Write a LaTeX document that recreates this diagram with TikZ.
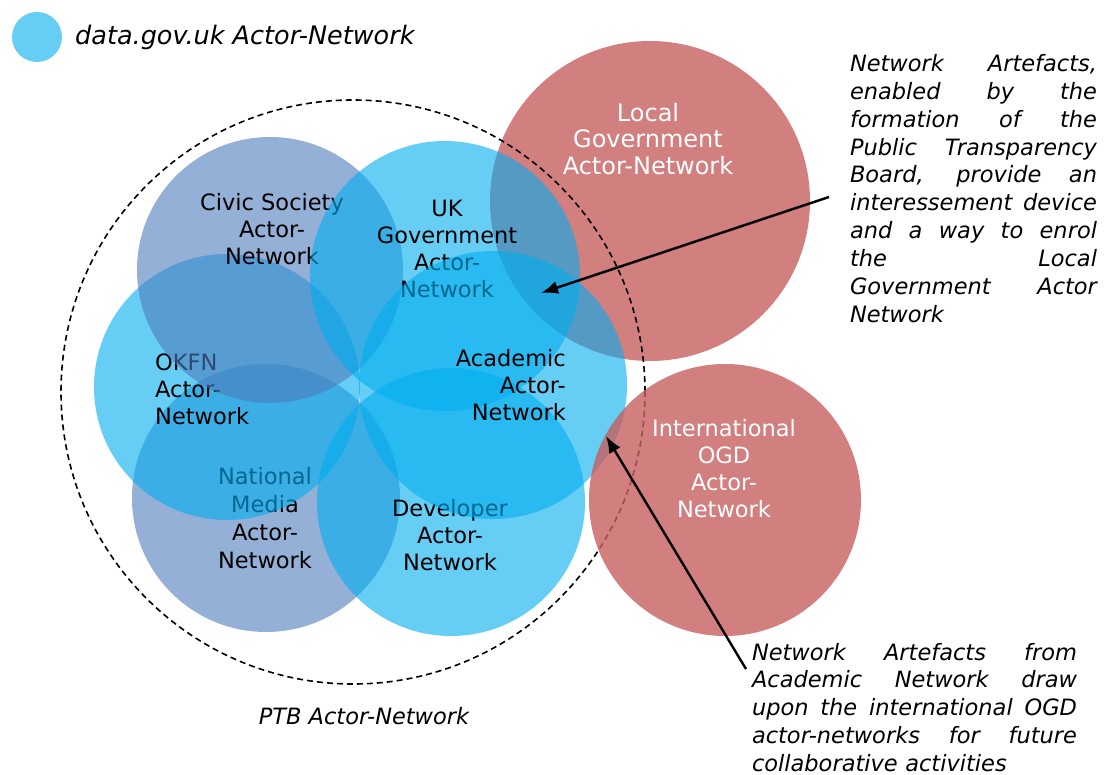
\documentclass[tikz,border=0pt]{standalone}
\usepackage{fontspec}
\setmainfont{DejaVu Sans}
\usepackage{tkz-euclide}
\usetikzlibrary{arrows.meta}
\definecolor{ogdblue}{RGB}{0,173,239}
\definecolor{civblue}{RGB}{78,123,188}
\definecolor{locred}{RGB}{210,127,127}
\definecolor{intred}{RGB}{199,95,95}
\newlength{\artwd}
\newcommand{\jline}[1]{\leavevmode\hbox to\artwd{\spaceskip=.3em plus 1fil\relax#1}}
\tikzset{
  netlbl/.style={align=center,inner sep=0pt,font=\fontsize{22.5}{27}\selectfont},
  artefact/.style={align=left,inner sep=0pt,font=\fontsize{22.5}{27.9}\selectfont\itshape},
  pointer/.style={line width=2.4pt,-{Latex[length=17pt,width=13pt]}},
  bluenet/.style={fill=ogdblue,fill opacity=0.6},
  greynet/.style={fill=civblue,fill opacity=0.6}
}

\begin{document}
\begin{tikzpicture}[x=1pt,y=-1pt]
            \useasboundingbox (0,0) rectangle (1106,775);
            \tkzDefPoint(37,37){LEG}
            \tkzDefPoint(650,201){LG}
            \tkzDefPoint(725,500){IO}
            \tkzDefPoint(353,392){PTB}
            \tkzDefPoint(270,270){CS}
            \tkzDefPoint(445,276){UK}
            \tkzDefPoint(227,387){OK}
            \tkzDefPoint(493,385){AC}
            \tkzDefPoint(266,498){NM}
            \tkzDefPoint(451,502){DV}
            \tkzDefPoint(829,197){P}
            \tkzDefPoint(541,293){Q}
            \tkzDefPoint(746,669){R}
            \tkzDefPoint(606,436){S}
            \fill[ogdblue,opacity=0.6] (LEG) circle (25pt);
            \node[anchor=west,inner sep=0pt,font=\fontsize{25.5}{30}\selectfont\itshape] (legtxt) at (75,37) {data.gov.uk Actor-Network};
            \fill[locred] (LG) circle (160pt);
            \node[netlbl,text=white,font=\fontsize{24}{26.5}\selectfont] (lglbl) at (648,139) {Local\\Government\\Actor-Network};
            \path[greynet] (NM) circle (134pt);
            \node[netlbl,font=\fontsize{22.5}{28}\selectfont] (nmlbl) at (265,518) {National\\Media\\Actor-\\Network};
            \path[bluenet] (DV) circle (134pt);
            \node[netlbl] (dvlbl) at (450,535) {Developer\\Actor-\\Network};
            \path[bluenet] (OK) circle (133pt);
            \node[netlbl,align=left,anchor=west] (oklbl) at (155,389) {OKFN\\Actor-\\Network};
            \path[greynet] (CS) circle (133pt);
            \node[netlbl] (cslbl) at (272,229) {Civic Society\\Actor-\\Network};
            \path[bluenet] (UK) circle (135pt);
            \node[netlbl] (uklbl) at (447,249) {UK\\Government\\Actor-\\Network};
            \path[bluenet] (AC) circle (134pt);
            \node[netlbl,align=right,anchor=east] (aclbl) at (566,385) {Academic\\Actor-\\Network};
            \draw[line width=1.6pt,dash pattern=on 6pt off 4pt] (PTB) circle (292pt);
            \node[font=\fontsize{22.5}{26}\selectfont\itshape] (ptblbl) at (364,716) {PTB Actor-Network};
            \fill[intred,opacity=0.8] (IO) circle (136pt);
            \node[netlbl,text=white] (iolbl) at (724,469) {International\\OGD\\Actor-\\Network};
            \node[artefact,text width=247pt] (boardtxt) at (973.5,188.5) {\global\artwd=247pt\jline{Network Artefacts,}\\\jline{enabled by the}\\\jline{formation of the}\\\jline{Public Transparency}\\\jline{Board, provide an}\\\jline{interessement device}\\\jline{and a way to enrol}\\\jline{the Local}\\\jline{Government Actor}\\Network};
            \node[artefact,text width=325pt] (academtxt) at (914.5,707.5) {\global\artwd=325pt\jline{Network Artefacts from}\\\jline{Academic Network draw}\\\jline{upon the international OGD}\\\jline{actor-networks for future}\\collaborative activities};
            \draw[pointer] (P) -- (Q);
            \draw[pointer] (R) -- (S);
        \end{tikzpicture}
\end{document}
